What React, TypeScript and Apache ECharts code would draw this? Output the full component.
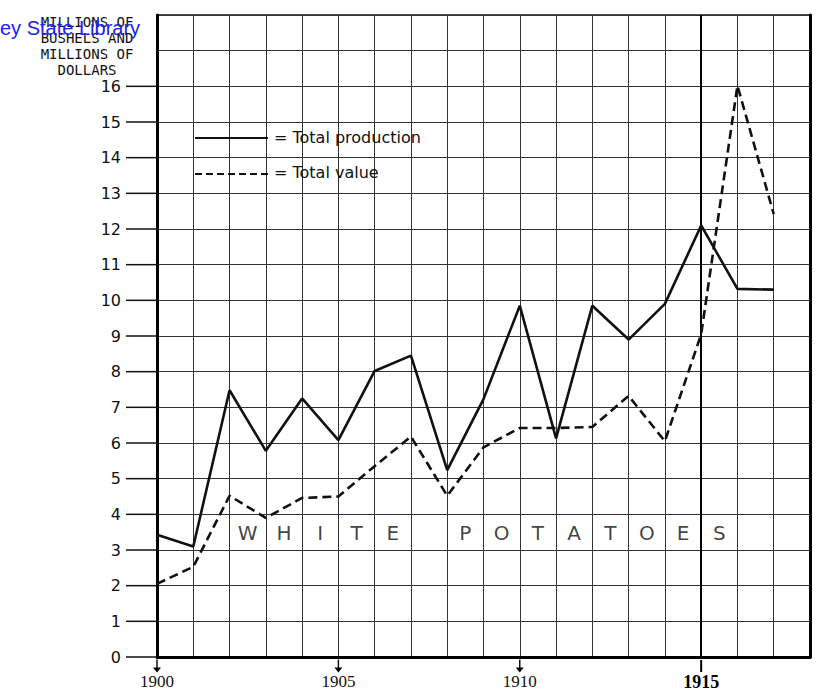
import React, { useEffect, useRef } from 'react';
import * as echarts from 'echarts';

const years = [1900, 1901, 1902, 1903, 1904, 1905, 1906, 1907, 1908, 1909, 1910, 1911, 1912, 1913, 1914, 1915, 1916, 1917];
const production = [3.43, 3.1, 7.48, 5.78, 7.25, 6.08, 8.02, 8.45, 5.24, 7.23, 9.85, 6.13, 9.85, 8.9, 9.9, 12.1, 10.32, 10.3];
const totalValue = [2.05, 2.53, 4.52, 3.9, 4.46, 4.5, 5.35, 6.18, 4.52, 5.88, 6.42, 6.42, 6.45, 7.32, 6.05, 9.05, 16.02, 12.42];
const labeledYears = [1900, 1905, 1910, 1915];
const boldYear = 1915;
const titleLetters = ['W', 'H', 'I', 'T', 'E', 'P', 'O', 'T', 'A', 'T', 'O', 'E', 'S'];
const titleX = [1902.5, 1903.5, 1904.5, 1905.5, 1906.5, 1908.5, 1909.5, 1910.5, 1911.5, 1912.5, 1913.5, 1914.5, 1915.5];
const titleLevel = 3.47;
const maxLabeledY = 16;

const FONT = 'DejaVu Sans';
const ARROW = 'path://M4.3,0 L5.7,0 L5.7,8 L9,8 L5,13 L1,8 L4.3,8 Z';
const BAR = 'path://M0,0 L2,0 L2,12 L0,12 Z';

export default function App() {
  const ref = useRef<HTMLDivElement>(null);
  useEffect(() => {
    const chart = echarts.init(ref.current!, null, { renderer: 'svg' });
    const grid = { color: '#333', width: 1 };
    chart.setOption({
      animation: false,
      backgroundColor: '#ffffff',
      grid: {
        left: 157, right: 14, top: 15, bottom: 33, show: true, borderColor: '#111', borderWidth: 1.5,
        containLabel: false, outerBoundsMode: 'none',
      },
      xAxis: {
        type: 'value', min: 1900, max: 1918, interval: 1,
        axisLine: { show: true, lineStyle: { color: '#000', width: 3 } },
        axisTick: { show: false },
        splitLine: { show: true, lineStyle: grid },
        axisLabel: {
          margin: 16,
          formatter: (v: number) => {
            if (!labeledYears.includes(v)) return '';
            return v === boldYear ? `{b|${v}}` : `{n|${v}}`;
          },
          rich: {
            n: { fontSize: 17, lineHeight: 17, color: '#111', fontFamily: 'Liberation Serif' },
            b: { fontSize: 18, lineHeight: 17, color: '#000', fontWeight: 'bold', fontFamily: 'Liberation Serif' },
          },
        },
      },
      yAxis: [
        {
          type: 'value', min: 0, max: 18, interval: 1,
          axisLine: { show: true, lineStyle: { color: '#000', width: 3 } },
          axisTick: { show: false },
          splitLine: { show: true, lineStyle: grid },
          axisLabel: {
            margin: 0,
            formatter: (v: number) => (v <= maxLabeledY ? `{n|${v}}{t|}` : ''),
            rich: {
              n: { fontSize: 16, color: '#111', fontFamily: FONT, padding: [0, 5, 0, 0] },
              t: { width: 31, height: 1.5, backgroundColor: '#111' },
            },
          },
        },
        {
          type: 'value', position: 'right', min: 0, max: 18, interval: 1,
          axisLine: { show: true, lineStyle: { color: '#000', width: 3 } },
          axisTick: { show: false }, axisLabel: { show: false }, splitLine: { show: false },
        },
      ],
      series: [
        {
          name: 'Total production', type: 'line', symbol: 'none',
          data: years.map((y, i) => [y, production[i]]),
          lineStyle: { color: '#111', width: 2.6 },
          markLine: {
            silent: true, symbol: 'none', label: { show: false },
            lineStyle: { color: '#000', width: 2, type: 'solid' },
            data: [{ xAxis: boldYear }],
          },
          markPoint: {
            silent: true, label: { show: false },
            itemStyle: { color: '#000' },
            data: labeledYears.map((y) => ({
              coord: [y, 0],
              symbol: y === boldYear ? BAR : ARROW,
              symbolSize: y === boldYear ? [2, 12] : [8, 13],
              symbolOffset: [0, 9],
            })),
          },
          z: 5,
        },
        {
          name: 'Total value', type: 'line', symbol: 'none',
          data: years.map((y, i) => [y, totalValue[i]]),
          lineStyle: { color: '#111', width: 2.6, type: [9, 5] },
          z: 5,
        },
        {
          name: 'title', type: 'scatter', symbolSize: 1,
          itemStyle: { color: 'rgba(0,0,0,0)' },
          data: titleX.map((x, i) => [x, titleLevel, titleLetters[i]]),
          label: {
            show: true, position: 'inside',
            formatter: (p: any) => p.value[2],
            fontSize: 20, color: '#111', fontFamily: FONT,
          },
          z: 6,
        },
      ],
      graphic: [
        {
          type: 'text', x: 87, y: 14,
          style: {
            text: 'MILLIONS OF\nBUSHELS AND\nMILLIONS OF\nDOLLARS',
            fontSize: 14, lineHeight: 16, fontFamily: 'DejaVu Sans Mono', fill: '#111', align: 'center',
          },
        },
        { type: 'line', shape: { x1: 195, y1: 138, x2: 268, y2: 138 }, style: { stroke: '#111', lineWidth: 2.2 }, z: 10 },
        { type: 'line', shape: { x1: 195, y1: 174, x2: 268, y2: 174 }, style: { stroke: '#111', lineWidth: 2.2, lineDash: [7, 4] }, z: 10 },
        {
          type: 'text', x: 274, y: 137, z: 10,
          style: { text: '= Total production', fontSize: 16, fontFamily: FONT, fill: '#111', verticalAlign: 'middle' },
        },
        {
          type: 'text', x: 274, y: 172, z: 10,
          style: { text: '= Total value', fontSize: 16, fontFamily: FONT, fill: '#111', verticalAlign: 'middle' },
        },
        {
          type: 'text', x: 0, y: 18, z: 20,
          style: { text: 'ey State Library', fontSize: 20, fontFamily: 'Liberation Sans', fill: '#2020f0' },
        },
      ],
    });
    return () => chart.dispose();
  }, []);
  return <div ref={ref} style={{ position: 'fixed', left: 0, top: 0, width: 824, height: 690 }} />;
}
